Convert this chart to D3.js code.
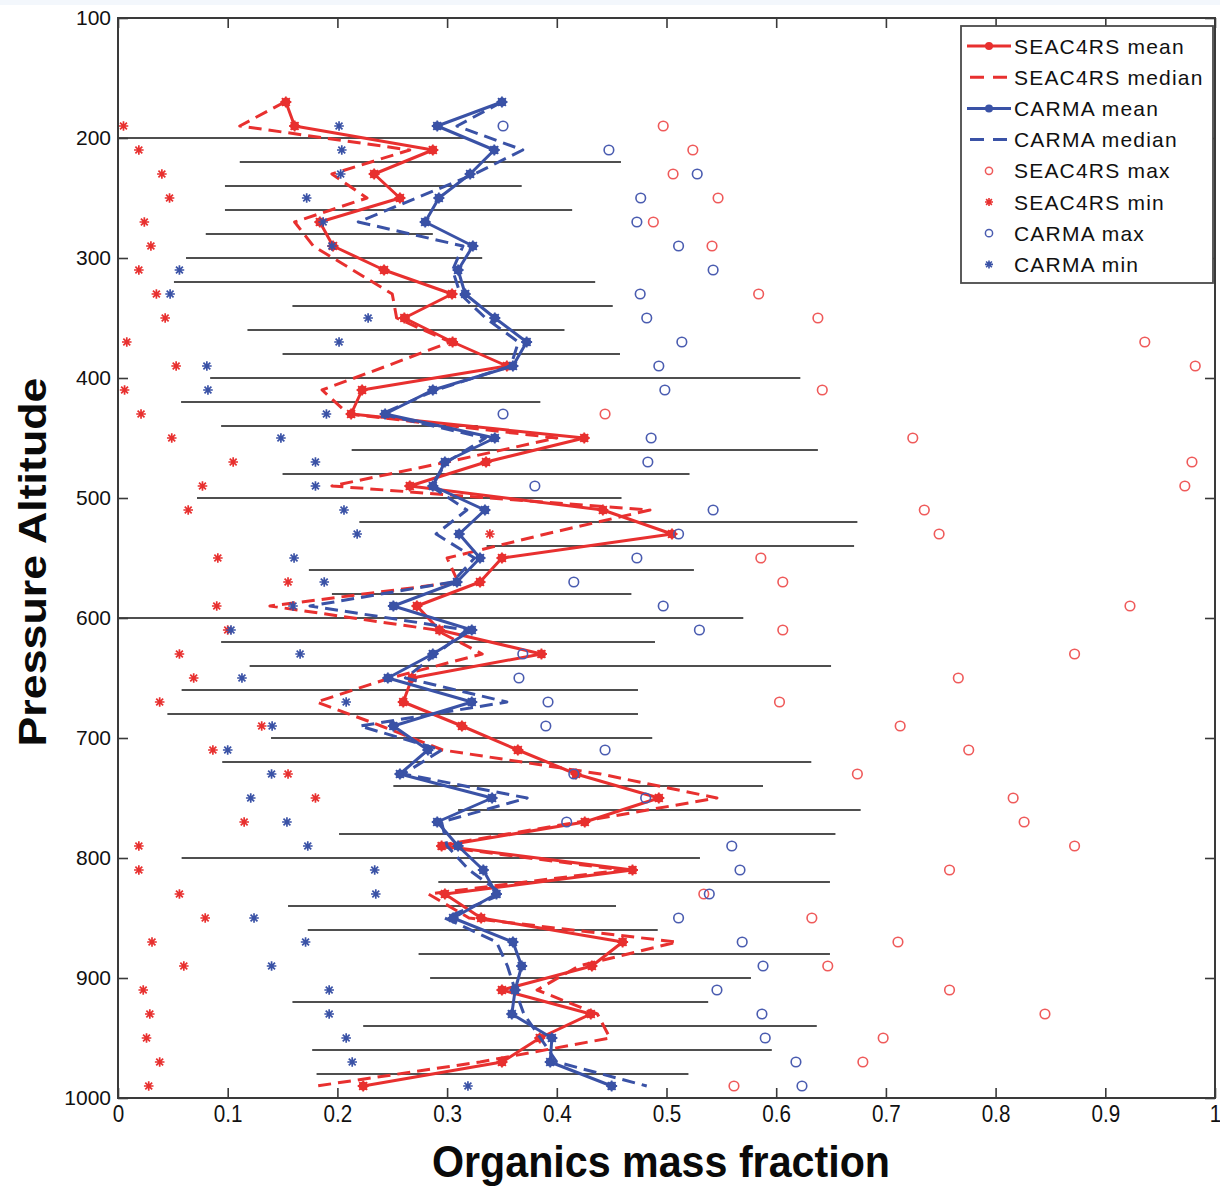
<!DOCTYPE html>
<html>
<head>
<meta charset="utf-8">
<script src="https://cdn.jsdelivr.net/npm/d3@7"></script>
<style>
  body { margin: 0; background: #ffffff; }
  svg { display: block; }
  text { font-family: "Liberation Sans", Arial, Helvetica, sans-serif; }
</style>
</head>
<body>
<svg id="chart" width="1220" height="1186"></svg>
<script>
// Pressure levels (hPa) of the profile statistics
const levels = [170, 190, 210, 230, 250, 270, 290, 310, 330, 350, 370, 390, 410, 430,
                450, 470, 490, 510, 530, 550, 570, 590, 610, 630, 650, 670, 690, 710,
                730, 750, 770, 790, 810, 830, 850, 870, 890, 910, 930, 950, 970, 990];

const seacMean = [0.153, 0.161, 0.287, 0.2335, 0.257, 0.184, 0.196, 0.2425, 0.3045, 0.261, 0.305, 0.3545, 0.2225, 0.2125,
                  0.425, 0.3355, 0.266, 0.442, 0.505, 0.350, 0.330, 0.2725, 0.293, 0.386, 0.268, 0.260, 0.3135, 0.3645,
                  0.4175, 0.493, 0.4255, 0.295, 0.469, 0.298, 0.331, 0.460, 0.432, 0.350, 0.431, 0.3845, 0.350, 0.2235];

const seacMedian = [0.152, 0.111, 0.266, 0.195, 0.227, 0.161, 0.178, 0.214, 0.250, 0.254, 0.303, 0.245, 0.186, 0.210,
                    0.400, 0.300, 0.195, 0.485, 0.390, 0.300, 0.310, 0.1385, 0.290, 0.332, 0.248, 0.181, 0.240, 0.296,
                    0.440, 0.546, 0.420, 0.290, 0.460, 0.283, 0.320, 0.5095, 0.420, 0.382, 0.437, 0.4485, 0.330, 0.181];

const carmaMean = [0.350, 0.291, 0.343, 0.321, 0.2925, 0.280, 0.3235, 0.310, 0.3165, 0.3435, 0.3725, 0.360, 0.287, 0.2435,
                   0.3435, 0.298, 0.287, 0.3345, 0.311, 0.330, 0.309, 0.251, 0.3225, 0.287, 0.246, 0.3225, 0.251, 0.2825,
                   0.257, 0.341, 0.291, 0.310, 0.333, 0.345, 0.3055, 0.360, 0.368, 0.362, 0.359, 0.3955, 0.394, 0.450];

const carmaMedian = [0.350, 0.309, 0.369, 0.325, 0.272, 0.219, 0.3145, 0.305, 0.312, 0.335, 0.365, 0.358, 0.290, 0.240,
                     0.335, 0.300, 0.285, 0.318, 0.290, 0.325, 0.305, 0.175, 0.318, 0.290, 0.262, 0.3545, 0.2205, 0.295,
                     0.260, 0.373, 0.295, 0.300, 0.320, 0.350, 0.298, 0.345, 0.355, 0.362, 0.370, 0.385, 0.400, 0.482];

const seacMax = [null, 0.497, 0.524, 0.506, 0.547, 0.488, 0.5415, null, 0.584, 0.638, 0.936, 0.982, 0.642, 0.444,
                 0.7245, 0.979, 0.9725, 0.735, 0.7485, 0.586, 0.606, 0.9225, 0.606, 0.872, 0.766, 0.603, 0.713, 0.7755,
                 0.674, 0.816, 0.826, 0.872, 0.758, 0.534, 0.6325, 0.711, 0.647, 0.758, 0.845, 0.6975, 0.679, 0.5615];

const seacMin = [null, 0.005, 0.019, 0.040, 0.047, 0.024, 0.030, 0.019, 0.035, 0.043, 0.008, 0.053, 0.006, 0.021,
                 0.049, 0.105, 0.077, 0.064, 0.339, 0.091, 0.155, 0.090, 0.100, 0.056, 0.069, 0.038, 0.131, 0.0865,
                 0.155, 0.180, 0.115, 0.019, 0.019, 0.056, 0.0795, 0.031, 0.060, 0.023, 0.029, 0.026, 0.038, 0.028];

const carmaMax = [null, 0.351, 0.4475, 0.528, 0.4765, 0.473, 0.511, 0.5425, 0.476, 0.482, 0.514, 0.493, 0.4985, 0.351,
                  0.486, 0.483, 0.380, 0.5425, 0.511, 0.473, 0.4155, 0.497, 0.530, 0.369, 0.3655, 0.392, 0.390, 0.444,
                  0.4155, 0.481, 0.409, 0.5595, 0.567, 0.539, 0.511, 0.569, 0.588, 0.546, 0.587, 0.590, 0.618, 0.6235];

const carmaMin = [null, 0.2015, 0.204, 0.203, 0.172, 0.187, 0.195, 0.056, 0.0475, 0.228, 0.2015, 0.081, 0.082, 0.190,
                  0.1485, 0.180, 0.180, 0.206, 0.218, 0.1605, 0.188, 0.1595, 0.103, 0.166, 0.113, 0.208, 0.1405, 0.100,
                  0.140, 0.121, 0.154, 0.173, 0.234, 0.235, 0.124, 0.171, 0.140, 0.1925, 0.1925, 0.208, 0.2135, 0.319];

// Black range bars drawn at the intermediate levels
const barLevels = [200, 220, 240, 260, 280, 300, 320, 340, 360, 380, 400, 420, 440, 460, 480, 500, 520, 540, 560, 580,
                   600, 620, 640, 660, 680, 700, 720, 740, 760, 780, 800, 820, 840, 860, 880, 900, 920, 940, 960, 980];
const barLow  = [0, 0.111, 0.0975, 0.0975, 0.080, 0.062, 0.051, 0.159, 0.118, 0.150, 0.084, 0.0575, 0.094, 0.213, 0.150,
                 0.072, 0.220, 0.336, 0.174, 0.195, 0, 0.094, 0.120, 0.058, 0.045, 0.1395, 0.095, 0.251, 0.310, 0.2015,
                 0.058, 0.292, 0.155, 0.173, 0.274, 0.2845, 0.159, 0.2235, 0.177, 0.181];
const barHigh = [0.316, 0.4585, 0.368, 0.414, 0.287, 0.332, 0.435, 0.451, 0.407, 0.4576, 0.622, 0.385, 0.328, 0.638, 0.521,
                 0.459, 0.674, 0.671, 0.525, 0.468, 0.570, 0.4895, 0.650, 0.474, 0.474, 0.487, 0.632, 0.588, 0.677, 0.654,
                 0.5305, 0.649, 0.454, 0.492, 0.649, 0.577, 0.538, 0.637, 0.596, 0.520];

// Axis ticks
const xTicks = [0, 0.1, 0.2, 0.3, 0.4, 0.5, 0.6, 0.7, 0.8, 0.9, 1];
const xTickLabels = ["0", "0.1", "0.2", "0.3", "0.4", "0.5", "0.6", "0.7", "0.8", "0.9", "1"];
const yTicks = [100, 200, 300, 400, 500, 600, 700, 800, 900, 1000];
const yTickLabels = ["100", "200", "300", "400", "500", "600", "700", "800", "900", "1000"];

const legendLabels = ["SEAC4RS mean", "SEAC4RS median", "CARMA mean", "CARMA median",
                      "SEAC4RS max", "SEAC4RS min", "CARMA max", "CARMA min"];

const RED = "#e8302f";
const RED_LIGHT = "#ef5a5a";
const BLUE = "#3a52a6";
const BLUE_LIGHT = "#4a5cb0";

const svg = d3.select("#chart");

// thin tinted strip along the top edge
svg.append("rect").attr("x", 0).attr("y", 0).attr("width", 1220).attr("height", 5).attr("fill", "#f3f7fc");

const x = d3.scaleLinear().domain([0, 1]).range([118, 1215]);
const y = d3.scaleLinear().domain([100, 1000]).range([18, 1098]);

// Range bars
svg.append("g").selectAll("line")
  .data(barLevels.map((p, i) => ({ p, lo: barLow[i], hi: barHigh[i] })))
  .join("line")
  .attr("x1", d => x(d.lo)).attr("x2", d => x(d.hi))
  .attr("y1", d => y(d.p)).attr("y2", d => y(d.p))
  .attr("stroke", "#151515").attr("stroke-width", 1.6);

const line = d3.line().x(d => x(d.v)).y(d => y(d.p));
const rows = arr => levels.map((p, i) => ({ p, v: arr[i] })).filter(d => d.v !== null);

function asterisk(s) {
  const a = s * 0.72;
  return `M${-s},0L${s},0M0,${-s}L0,${s}M${-a},${-a}L${a},${a}M${-a},${a}L${a},${-a}`;
}

function drawProfile(arr, color, dashed, markers) {
  const g = svg.append("g");
  g.append("path")
    .datum(rows(arr))
    .attr("d", line)
    .attr("fill", "none")
    .attr("stroke", color)
    .attr("stroke-width", 3)
    .attr("stroke-linejoin", "round")
    .attr("stroke-dasharray", dashed ? "13,7" : null);
  if (markers) {
    g.selectAll("circle").data(rows(arr)).join("circle")
      .attr("cx", d => x(d.v)).attr("cy", d => y(d.p)).attr("r", 4.6)
      .attr("fill", color);
    g.selectAll("path.star").data(rows(arr)).join("path").attr("class", "star")
      .attr("transform", d => `translate(${x(d.v)},${y(d.p)})`)
      .attr("d", asterisk(5.5))
      .attr("stroke", color).attr("stroke-width", 1.8);
  }
}

drawProfile(seacMean, RED, false, true);
drawProfile(seacMedian, RED, true, false);
drawProfile(carmaMean, BLUE, false, true);
drawProfile(carmaMedian, BLUE, true, false);

function drawCircles(arr, color) {
  svg.append("g").selectAll("circle").data(rows(arr)).join("circle")
    .attr("cx", d => x(d.v)).attr("cy", d => y(d.p)).attr("r", 4.8)
    .attr("fill", "none").attr("stroke", color).attr("stroke-width", 1.6);
}
function drawStars(arr, color) {
  svg.append("g").selectAll("path").data(rows(arr)).join("path")
    .attr("transform", d => `translate(${x(d.v)},${y(d.p)})`)
    .attr("d", asterisk(4.8))
    .attr("fill", "none").attr("stroke", color).attr("stroke-width", 1.7);
}
drawCircles(seacMax, RED_LIGHT);
drawStars(seacMin, RED);
drawCircles(carmaMax, BLUE_LIGHT);
drawStars(carmaMin, BLUE);

// Axes (ticks pointing inward on all four sides)
const axisColor = "#3a3a3a";
function styleAxis(g) {
  g.select(".domain").remove();
  g.selectAll(".tick line").attr("stroke", axisColor).attr("stroke-width", 1.6);
  g.selectAll(".tick text").attr("fill", "#111");
}

svg.append("g").attr("transform", "translate(0,1098)")
  .call(d3.axisBottom(x).tickValues(xTicks).tickSize(-10).tickPadding(7)
        .tickFormat((d, i) => xTickLabels[i]))
  .call(styleAxis)
  .call(g => g.selectAll(".tick text")
    .attr("font-size", 24).attr("font-family", null)
    .attr("transform", "scale(0.86,1)"));

svg.append("g").attr("transform", "translate(118,0)")
  .call(d3.axisLeft(y).tickValues(yTicks).tickSize(-10).tickPadding(7)
        .tickFormat((d, i) => yTickLabels[i]))
  .call(styleAxis)
  .call(g => g.selectAll(".tick text").attr("font-size", 21).attr("font-family", null));

svg.append("g").attr("transform", "translate(0,18)")
  .call(d3.axisTop(x).tickValues(xTicks).tickSize(-10).tickFormat(""))
  .call(styleAxis);

svg.append("g").attr("transform", "translate(1215,0)")
  .call(d3.axisRight(y).tickValues(yTicks).tickSize(-10).tickFormat(""))
  .call(styleAxis);

// Plot frame
svg.append("rect")
  .attr("x", x(0)).attr("y", y(100))
  .attr("width", x(1) - x(0)).attr("height", y(1000) - y(100))
  .attr("fill", "none").attr("stroke", axisColor).attr("stroke-width", 2);

// Axis titles
svg.append("text")
  .attr("x", 661).attr("y", 1177)
  .attr("text-anchor", "middle")
  .attr("font-size", 44).attr("font-weight", "bold")
  .attr("textLength", 458).attr("lengthAdjust", "spacingAndGlyphs")
  .attr("fill", "#0a0a0a")
  .text("Organics mass fraction");

svg.append("text")
  .attr("transform", "translate(46,562) rotate(-90)")
  .attr("text-anchor", "middle")
  .attr("font-size", 39).attr("font-weight", "bold")
  .attr("textLength", 369).attr("lengthAdjust", "spacingAndGlyphs")
  .attr("fill", "#0a0a0a")
  .text("Pressure Altitude");

// Legend
const lg = svg.append("g");
lg.append("rect")
  .attr("x", 961).attr("y", 26).attr("width", 252).attr("height", 257)
  .attr("fill", "#ffffff").attr("stroke", "#4a4a4a").attr("stroke-width", 1.8);

const legendStyles = [
  { color: RED, kind: "solid" }, { color: RED, kind: "dash" },
  { color: BLUE, kind: "solid" }, { color: BLUE, kind: "dash" },
  { color: RED_LIGHT, kind: "circle" }, { color: RED, kind: "star" },
  { color: BLUE_LIGHT, kind: "circle" }, { color: BLUE, kind: "star" }
];

legendLabels.forEach((label, i) => {
  const cy = 46 + i * 31.2;
  const st = legendStyles[i];
  if (st.kind === "solid" || st.kind === "dash") {
    lg.append("line")
      .attr("x1", st.kind === "dash" ? 970 : 967).attr("x2", st.kind === "dash" ? 1008 : 1011)
      .attr("y1", cy).attr("y2", cy)
      .attr("stroke", st.color).attr("stroke-width", 3)
      .attr("stroke-dasharray", st.kind === "dash" ? "14,9" : null);
    if (st.kind === "solid") {
      lg.append("circle").attr("cx", 989).attr("cy", cy).attr("r", 4).attr("fill", st.color);
    }
  } else if (st.kind === "circle") {
    lg.append("circle").attr("cx", 989).attr("cy", cy).attr("r", 3.6)
      .attr("fill", "none").attr("stroke", st.color).attr("stroke-width", 1.5);
  } else {
    lg.append("path").attr("transform", `translate(989,${cy})`).attr("d", asterisk(4))
      .attr("stroke", st.color).attr("stroke-width", 1.6);
  }
  lg.append("text")
    .attr("x", 1014).attr("y", cy).attr("dy", "0.36em")
    .attr("font-size", 21).attr("letter-spacing", 1.2)
    .attr("fill", "#111")
    .text(label);
});
</script>
</body>
</html>
